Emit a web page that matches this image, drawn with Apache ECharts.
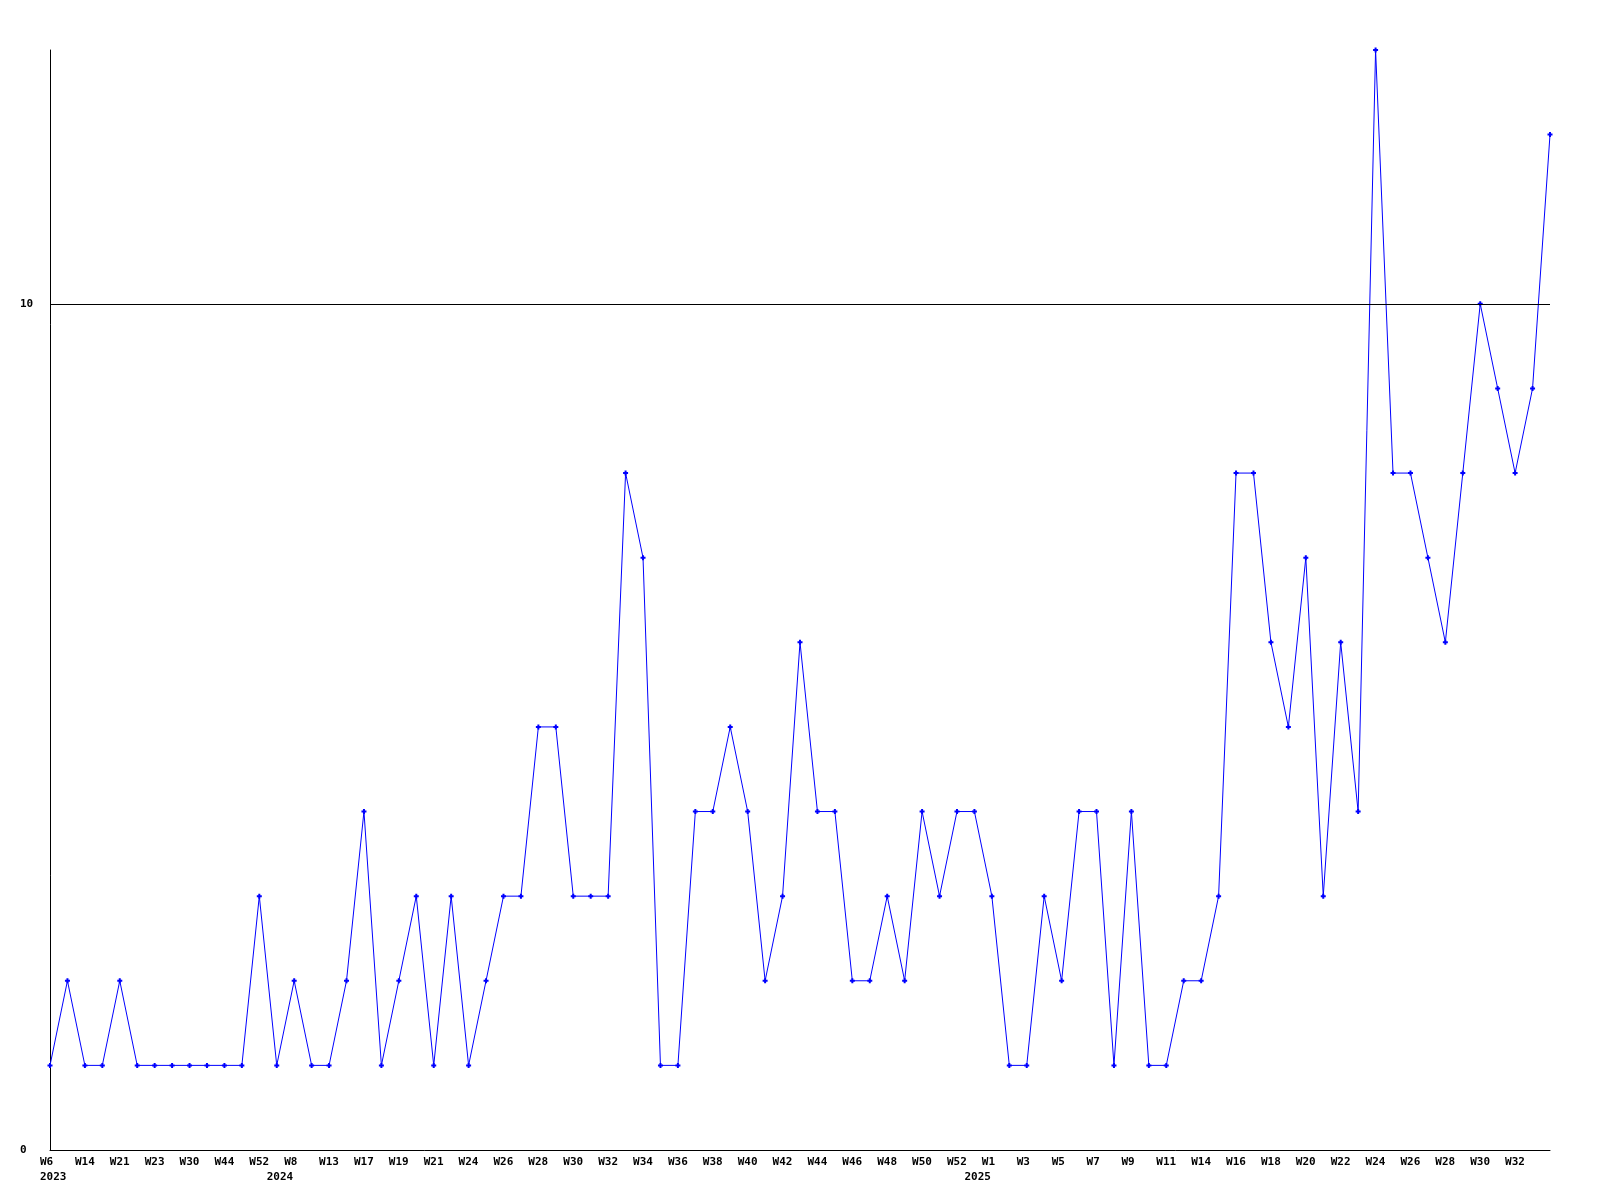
<!DOCTYPE html>
<html>
<head>
<meta charset="utf-8">
<script src="https://cdn.jsdelivr.net/npm/echarts@6/dist/echarts.min.js"></script>
<style>
html,body{margin:0;padding:0;background:#fff;}
#chart{width:1600px;height:1200px;}
</style>
</head>
<body>
<div id="chart"></div>
<script>
var weeks = ['W6','W10','W14','W18','W21','W22','W23','W27','W30','W37','W44','W48','W52',
  'W3','W8','W11','W13','W15','W17','W18','W19','W20','W21','W23','W24','W25','W26','W27','W28','W29',
  'W30','W31','W32','W33','W34','W35','W36','W37','W38','W39','W40','W41','W42','W43','W44','W45',
  'W46','W47','W48','W49','W50','W51','W52',
  'W0','W1','W2','W3','W4','W5','W6','W7','W8','W9','W10','W11','W13','W14','W15','W16','W17','W18',
  'W19','W20','W21','W22','W23','W24','W25','W26','W27','W28','W29','W30','W31','W32','W33','W34'];
var values = [1,2,1,1,2,1,1,1,1,1,
  1,1,3,1,2,1,1,2,4,1,
  2,3,1,3,1,2,3,3,5,5,
  3,3,3,8,7,1,1,4,4,5,
  4,2,3,6,4,4,2,2,3,2,
  4,3,4,4,3,1,1,3,2,4,
  4,1,4,1,1,2,2,3,8,8,
  6,5,7,3,6,4,13,8,8,7,
  6,8,10,9,8,9,12];
var yearNames = ['2023','2024','2025'];
var yearStartIndex = [0, 13, 53];
var yTicks = [0, 10];

var font = {fontFamily: 'DejaVu Sans Mono', fontWeight: 'bold', fontSize: 11, color: '#000'};

var chart = echarts.init(document.getElementById('chart'), null, {renderer: 'canvas'});
chart.setOption({
  animation: false,
  backgroundColor: '#fff',
  grid: [
    {left: 50, right: 50, top: 50, bottom: 50},
    {left: 40, right: 60, top: 50, bottom: 50}
  ],
  xAxis: [
    {type: 'category', gridIndex: 0, position: 'bottom', data: weeks, boundaryGap: false,
     axisLine: {show: true, onZero: false, lineStyle: {color: '#000', width: 1}},
     axisTick: {show: false}, axisLabel: {show: false}, splitLine: {show: false}},
    {type: 'category', gridIndex: 1, position: 'bottom', data: weeks, boundaryGap: false,
     axisLine: {show: false, onZero: false}, axisTick: {show: false}, splitLine: {show: false},
     axisLabel: Object.assign({show: true, interval: 0, align: 'left', margin: 7,
       formatter: function (v, i) { return (i % 2 === 0 && i < weeks.length - 1) ? v : ''; }}, font)},
    {type: 'category', gridIndex: 1, position: 'bottom', data: weeks, boundaryGap: false, offset: 15,
     axisLine: {show: false, onZero: false}, axisTick: {show: false}, splitLine: {show: false},
     axisLabel: Object.assign({show: true, interval: 0, align: 'left', margin: 7,
       formatter: function (v, i) { var k = yearStartIndex.indexOf(i); return k >= 0 ? yearNames[k] : ''; }}, font)}
  ],
  yAxis: [
    {type: 'value', gridIndex: 0, min: 0, max: 13, interval: 10,
     axisLine: {show: true, lineStyle: {color: '#000', width: 1}},
     axisTick: {show: false}, splitLine: {show: false},
     axisLabel: Object.assign({show: true, align: 'left', margin: 30, showMaxLabel: false,
       formatter: function (v) { return yTicks.indexOf(v) >= 0 ? String(v) : ''; }}, font)},
    {type: 'value', gridIndex: 1, min: 0, max: 1, show: false}
  ],
  series: [{
    type: 'line', xAxisIndex: 0, yAxisIndex: 0, data: values,
    showSymbol: true, showAllSymbol: true,
    symbol: 'path://M1.5,0H3.5V1.5H5V3.5H3.5V5H1.5V3.5H0V1.5H1.5Z', symbolSize: 5,
    itemStyle: {color: '#0000ff'},
    lineStyle: {color: '#0000ff', width: 1},
    markLine: {silent: true, symbol: ['none', 'none'], label: {show: false},
      lineStyle: {color: '#000', width: 1, type: 'solid'},
      emphasis: {disabled: true},
      data: [{yAxis: 10}]}
  }]
});
</script>
</body>
</html>
